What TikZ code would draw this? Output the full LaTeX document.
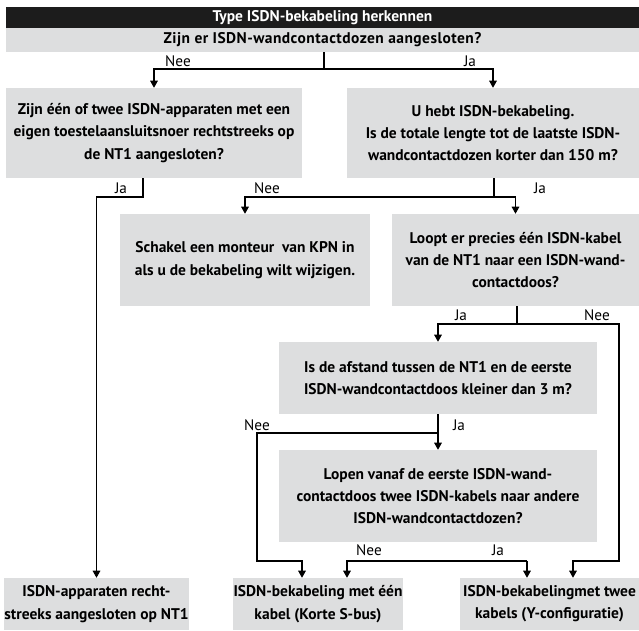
\documentclass[tikz,border=0pt]{standalone}
\usepackage{fontspec}
\setmainfont{PT Sans}
\usepackage{xcolor}
\usepackage{tikz}
\usetikzlibrary{positioning, arrows.meta, calc}

\definecolor{boxgray}{RGB}{221,222,223}
\definecolor{barblack}{RGB}{28,28,28}

\begin{document}
\begin{tikzpicture}[x=0.03cm, y=-0.03cm, >={Triangle[width=6.5pt,length=6pt]},
  every node/.style={font=\fontsize{13}{19}\selectfont},
  box/.style={fill=boxgray, inner sep=0pt, align=center, font=\bfseries\fontsize{13.2}{19}\selectfont},
  size/.style 2 args={minimum width=#1*0.03cm, minimum height=#2*0.03cm},
  lbl/.style={inner sep=1pt},
  line/.style={line width=0.9pt}]

\useasboundingbox (0,0) rectangle (639,630);

% Header
\node (title) [box, fill=barblack, text=white, size={633}{21}] at (322.5,17.5) {Type ISDN-bekabeling herkennen};
\node (q1) [box, size={633}{24}] at (322.5,40) {\addfontfeatures{LetterSpace=3}Zijn er ISDN-wandcontactdozen aangesloten?};

% First level
\node (q2) [box, size={296}{90}] at (154,133) {Zijn één of twee ISDN-apparaten met een\\eigen toestelaansluitsnoer rechtstreeks op\\de NT1 aangesloten?};
\node (q3) [box, size={292}{90}] at (493,133) {U hebt ISDN-bekabeling.\\Is de totale lengte tot de laatste ISDN-\\wandcontactdozen korter dan 150 m?};

% Second level
\node (monteur) [box, size={250}{92}] at (245,260) {Schakel een monteur\ \ van KPN in\\als u de bekabeling wilt wijzigen.};
\node (q4) [box, size={247}{92}] at (515.5,260) {Loopt er precies één ISDN-kabel\\van de NT1 naar een ISDN-wand-\\contactdoos?};

% Third and fourth level
\node (q5) [box, size={318}{72}] at (438,378) {Is de afstand tussen de NT1 en de eerste\\ISDN-wandcontactdoos kleiner dan 3 m?};
\node (q6) [box, size={318}{92}] at (438,496) {Lopen vanaf de eerste ISDN-wand-\\contactdoos twee ISDN-kabels naar andere\\ISDN-wandcontactdozen?};

% Results
\node (r1) [box, size={181}{52}] at (96.5,604) {ISDN-apparaten recht-\\streeks aangesloten op NT1};
\node (r2) [box, size={170}{52}] at (318,604) {ISDN-bekabeling met één\\kabel (Korte S-bus)};
\node (r3) [box, size={179}{52}] at (549.5,604) {ISDN-bekabelingmet twee\\kabels (Y-configuratie)};

% Split points
\coordinate (s1) at (324,69);
\coordinate (s2) at (143,197);
\coordinate (s3) at (494,197);
\coordinate (s4) at (517,324);
\coordinate (s5) at (438,433);
\coordinate (s4nee) at (619,561);
\coordinate (s5nee) at (257,561);
\coordinate (s6nee) at (347,561);
\coordinate (s6ja) at (527,561);

% Connectors
\draw[line] (q1.south -| s1) -- (s1);
\draw[line, ->] (s1) -| (q2);
\draw[line, ->] (s1) -| (q3);

\draw[line, ->] (q2.south -| s2) -- (s2) -| (r1);

\draw[line] (q3.south -| s3) -- (s3);
\draw[line, ->] (s3) -| (monteur);
\draw[line, ->] (s3) -| (q4);

\draw[line] (q4.south -| s4) -- (s4);
\draw[line, ->] (s4) -| (q5);
\draw[line, ->] (s4) -| (s4nee) -- (s4nee -| 573,0) -- (r3.north -| 573,0);

\draw[line] (q5.south -| s5) -- (s5);
\draw[line, ->] (s5) -- (q6);
\draw[line, ->] (s5) -| (s5nee) -- (s5nee -| 302,0) -- (r2.north -| 302,0);

\draw[line, ->] (s6ja) -- (s6nee) -- (r2.north -| s6nee);
\draw[line, ->] (s6ja) -- (r3.north -| s6ja);

% Labels
\node (l1n) [lbl] at (178,61) {Nee};
\node (l1j) [lbl] at (470,61) {Ja};
\node (l2j) [lbl] at (121,188) {Ja};
\node (l3n) [lbl] at (267,188) {Nee};
\node (l3j) [lbl] at (540,188) {Ja};
\node (l4j) [lbl] at (461,315) {Ja};
\node (l4n) [lbl] at (597,315) {Nee};
\node (l5n) [lbl] at (257,425) {Nee};
\node (l5j) [lbl] at (459,425) {Ja};
\node (l6n) [lbl] at (369,550) {Nee};
\node (l6j) [lbl] at (498,550) {Ja};

\end{tikzpicture}
\end{document}
